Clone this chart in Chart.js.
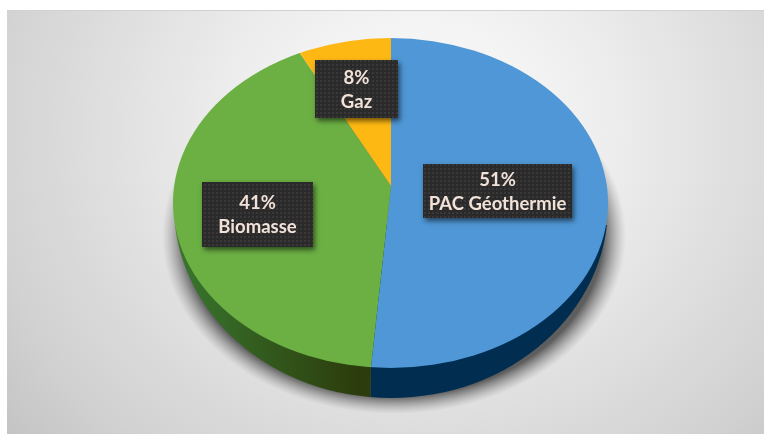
<!DOCTYPE html>
<html><head><meta charset="utf-8">
<style>html,body{margin:0;padding:0;background:#fff}canvas{display:block;filter:blur(0.45px)}</style>
<script src="https://cdn.jsdelivr.net/npm/chart.js@4"></script>
</head><body><canvas id="c" width="764" height="434"></canvas>
<script>
const categories = ['PAC Géothermie', 'Biomasse', 'Gaz'];
const shares = [51, 41, 8];
const faceColors = ['#4f97d6', '#6cb044', '#fdb813'];

const APEX = {x: 391, y: 186};
const FACE = {cx: 390.5, cy: 203, a: 217.5, b: 165};
const BASE = {cx: 391, cy: 206, a: 217, b: 192};
const SHADOW = {cx: 394, cy: 236, a: 232, b: 178};
const SCALE_TOP = {sx: 1.1, sy: 0.882};
const SCALE_BOTTOM = {sx: 1.58, sy: 0.9};
const SIDE = {x: 373.8, y: 186, sx: 1.5, sy: 6};
const BOXES = [
  {x: 423, y: 164, w: 149, h: 54, t1: 180, t2: 204},
  {x: 202, y: 182, w: 111, h: 65, t1: 203, t2: 227},
  {x: 315, y: 60, w: 83, h: 58, t1: 78, t2: 102}
];

function ellipsePath(ctx, e) {
  ctx.beginPath();
  ctx.ellipse(e.cx, e.cy, e.a, e.b, 0, 0, Math.PI * 2);
}
function dotPattern(ctx) {
  const p = document.createElement('canvas');
  p.width = p.height = 4;
  const g = p.getContext('2d');
  g.fillStyle = '#2a2a2b'; g.fillRect(0, 0, 4, 4);
  g.fillStyle = '#3a3839'; g.fillRect(0, 0, 2, 2);
  return ctx.createPattern(p, 'repeat');
}
function drawArcs(ctx, arcs, ax, ay, sx, sy, fills) {
  arcs.forEach((el, i) => {
    const saved = el.options;
    if (fills) {
      el.options = {backgroundColor: fills[i], borderColor: fills[i], borderWidth: 0, borderAlign: 'center',
        borderRadius: 0, offset: 0, spacing: 0, circular: true, borderDash: [], borderDashOffset: 0, borderJoinStyle: 'round'};
    }
    ctx.save();
    ctx.translate(ax, ay);
    ctx.scale(sx, sy);
    ctx.translate(-el.x, -el.y);
    el.draw(ctx);
    ctx.restore();
    el.options = saved;
  });
}
const tiltedPie = {
  id: 'tiltedPie',
  beforeDraw(chart) {
    const ctx = chart.ctx, W = chart.width, H = chart.height;
    ctx.save();
    ctx.fillStyle = '#fff'; ctx.fillRect(0, 0, W, H);
    ctx.beginPath(); ctx.rect(7, 10, W - 7, H - 10); ctx.clip();
    ctx.translate(420, 130); ctx.scale(1, 0.9);
    const g = ctx.createRadialGradient(0, 0, 30, 0, 0, 540);
    g.addColorStop(0, '#fbfbfb');
    g.addColorStop(0.3, '#eeeeee');
    g.addColorStop(0.65, '#dadada');
    g.addColorStop(0.8, '#d2d2d2');
    g.addColorStop(1, '#c4c3c3');
    ctx.fillStyle = g;
    ctx.fillRect(-500, -300, 1000, 800);
    ctx.restore();
    ctx.fillStyle = '#cfd2d2'; ctx.fillRect(7, 10, W - 7, 1);

    // soft shadow below the disc
    ctx.save();
    ctx.translate(SHADOW.cx, SHADOW.cy);
    ctx.scale(SHADOW.a / 100, SHADOW.b / 100);
    const sg = ctx.createRadialGradient(0, 0, 90, 0, 0, 100);
    sg.addColorStop(0, 'rgba(70,70,70,0.85)');
    sg.addColorStop(0.3, 'rgba(90,90,90,0.6)');
    sg.addColorStop(1, 'rgba(140,140,140,0)');
    ctx.fillStyle = sg;
    ctx.beginPath();
    ctx.arc(0, 0, 100, 0, Math.PI * 2);
    ctx.fill();
    ctx.restore();
  },
  beforeDatasetsDraw(chart) {
    const ctx = chart.ctx;
    const arcs = chart.getDatasetMeta(0).data;
    const W = chart.width, H = chart.height;

    // side wall
    const gr = ctx.createLinearGradient(175, 0, 372, 0);
    gr.addColorStop(0, '#4f8f3c');
    gr.addColorStop(0.45, '#37702b');
    gr.addColorStop(1, '#2c3c0c');
    ctx.save();
    ctx.beginPath(); ctx.rect(0, 225, W, H - 225); ctx.clip();
    ellipsePath(ctx, BASE); ctx.clip();
    drawArcs(ctx, arcs, SIDE.x, SIDE.y, SIDE.sx, SIDE.sy, ['#012e50', gr, gr]);
    ctx.restore();

    // top face: upper half
    ctx.save();
    ellipsePath(ctx, FACE); ctx.clip();
    ctx.save();
    ctx.beginPath(); ctx.rect(0, 0, W, APEX.y); ctx.clip();
    drawArcs(ctx, arcs, APEX.x, APEX.y, SCALE_TOP.sx, SCALE_TOP.sy);
    ctx.restore();
    // top face: lower half
    ctx.beginPath(); ctx.rect(0, APEX.y, W, H - APEX.y); ctx.clip();
    drawArcs(ctx, arcs, APEX.x, APEX.y, SCALE_BOTTOM.sx, SCALE_BOTTOM.sy);
    ctx.restore();
    return false;
  },
  afterDraw(chart) {
    const ctx = chart.ctx;
    const pat = dotPattern(ctx);
    categories.forEach((name, i) => {
      const b = BOXES[i];
      ctx.save();
      ctx.shadowColor = 'rgba(0,0,0,0.55)';
      ctx.shadowBlur = 5; ctx.shadowOffsetX = 2; ctx.shadowOffsetY = 3;
      ctx.fillStyle = '#2a2a2b';
      ctx.fillRect(b.x, b.y, b.w, b.h);
      ctx.restore();
      ctx.fillStyle = pat;
      ctx.fillRect(b.x, b.y, b.w, b.h);
      ctx.fillStyle = '#f3e2d8';
      ctx.font = 'bold 18.5px Lato, "Open Sans", sans-serif';
      ctx.textAlign = 'center';
      ctx.textBaseline = 'middle';
      const cx = b.x + b.w / 2;
      ctx.fillText(shares[i] + '%', cx, b.t1);
      ctx.fillText(name, cx, b.t2);
    });
  }
};
new Chart(document.getElementById('c'), {
  type: 'pie',
  data: {labels: categories, datasets: [{data: shares, backgroundColor: faceColors, borderWidth: 0}]},
  options: {
    responsive: false, animation: false, devicePixelRatio: 1,
    layout: {padding: 0},
    plugins: {legend: {display: false}, tooltip: {enabled: false}, title: {display: false}},
    events: []
  },
  plugins: [tiltedPie]
});
</script></body></html>
